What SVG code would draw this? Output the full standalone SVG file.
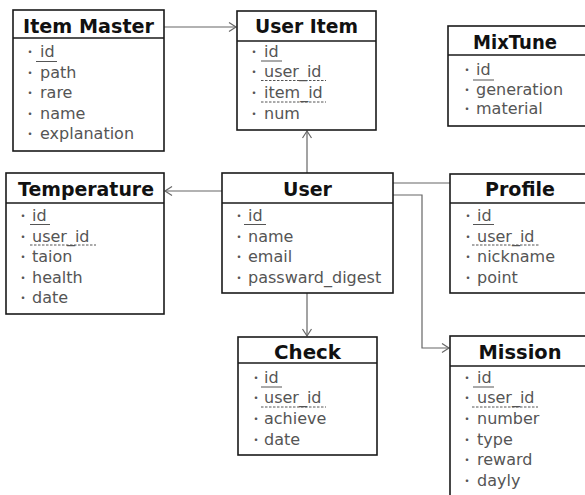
<svg xmlns="http://www.w3.org/2000/svg" width="585" height="495" viewBox="0 0 585 495">
<style>
.box{fill:#fff;stroke:#1a1a1a;stroke-width:1.6}
.sep{stroke:#1a1a1a;stroke-width:1.6}
.title{font-family:"DejaVu Sans","Liberation Sans",sans-serif;font-weight:bold;font-size:19px;fill:#111;text-anchor:middle}
.f{font-family:"DejaVu Sans","Liberation Sans",sans-serif;font-size:16px;fill:#555}
.b{font-family:"Noto Sans CJK JP",sans-serif;font-size:12px}
.pk{stroke:#555;stroke-width:1}
.fk{stroke:#555;stroke-width:1;stroke-dasharray:2.5,1.5}
.conn{fill:none;stroke:#666;stroke-width:1.2}
</style>
<defs>
<marker id="arr" markerUnits="userSpaceOnUse" markerWidth="10" markerHeight="11" refX="8" refY="5" orient="auto">
<path d="M1,0.5 L8,5 L1,9.5" fill="none" stroke="#666" stroke-width="1.2"/>
</marker>
</defs>
<g id="connectors">
<path class="conn" d="M164,27 H236" marker-end="url(#arr)"/>
<path class="conn" d="M307,173 V131" marker-end="url(#arr)"/>
<path class="conn" d="M222,191 H165" marker-end="url(#arr)"/>
<path class="conn" d="M393,183 H450"/>
<path class="conn" d="M307,293 V336" marker-end="url(#arr)"/>
<path class="conn" d="M393,195 H422 V348 H449" marker-end="url(#arr)"/>
</g>
<g id="item-master">
<rect class="box" x="13" y="10" width="151" height="141"/>
<line class="sep" x1="13" y1="38" x2="164" y2="38"/>
<text class="title" x="88.5" y="33" textLength="131" lengthAdjust="spacingAndGlyphs">Item Master</text>
<text class="f" y="57"><tspan class="b" x="24">・</tspan><tspan x="40">id</tspan></text>
<line class="pk" x1="36" y1="61.5" x2="57" y2="61.5"/>
<text class="f" y="77.5"><tspan class="b" x="24">・</tspan><tspan x="40">path</tspan></text>
<text class="f" y="98"><tspan class="b" x="24">・</tspan><tspan x="40">rare</tspan></text>
<text class="f" y="118.5"><tspan class="b" x="24">・</tspan><tspan x="40">name</tspan></text>
<text class="f" y="139"><tspan class="b" x="24">・</tspan><tspan x="40">explanation</tspan></text>
</g>
<g id="user-item">
<rect class="box" x="237" y="11" width="139" height="119"/>
<line class="sep" x1="237" y1="41" x2="376" y2="41"/>
<text class="title" x="306.5" y="33" textLength="103" lengthAdjust="spacingAndGlyphs">User Item</text>
<text class="f" y="57"><tspan class="b" x="248">・</tspan><tspan x="264">id</tspan></text>
<line class="pk" x1="261" y1="61" x2="282" y2="61"/>
<text class="f" y="77"><tspan class="b" x="248">・</tspan><tspan x="264">user_id</tspan></text>
<line class="fk" x1="261" y1="80.5" x2="326" y2="80.5"/>
<text class="f" y="98"><tspan class="b" x="248">・</tspan><tspan x="264">item_id</tspan></text>
<line class="fk" x1="261" y1="102" x2="326" y2="102"/>
<text class="f" y="118.5"><tspan class="b" x="248">・</tspan><tspan x="264">num</tspan></text>
</g>
<g id="mixtune">
<rect class="box" x="448" y="26" width="145" height="100"/>
<line class="sep" x1="448" y1="55" x2="593" y2="55"/>
<text class="title" x="515" y="49" textLength="84" lengthAdjust="spacingAndGlyphs">MixTune</text>
<text class="f" y="75"><tspan class="b" x="461">・</tspan><tspan x="476">id</tspan></text>
<line class="pk" x1="473" y1="80" x2="494" y2="80"/>
<text class="f" y="94.5"><tspan class="b" x="461">・</tspan><tspan x="476">generation</tspan></text>
<text class="f" y="114"><tspan class="b" x="461">・</tspan><tspan x="476">material</tspan></text>
</g>
<g id="temperature">
<rect class="box" x="6" y="173" width="158" height="141"/>
<line class="sep" x1="6" y1="203" x2="164" y2="203"/>
<text class="title" x="86" y="196" textLength="136" lengthAdjust="spacingAndGlyphs">Temperature</text>
<text class="f" y="221"><tspan class="b" x="17">・</tspan><tspan x="32">id</tspan></text>
<line class="pk" x1="30" y1="224.5" x2="50" y2="224.5"/>
<text class="f" y="241.5"><tspan class="b" x="17">・</tspan><tspan x="32">user_id</tspan></text>
<line class="fk" x1="30" y1="245" x2="96" y2="245"/>
<text class="f" y="262"><tspan class="b" x="17">・</tspan><tspan x="32">taion</tspan></text>
<text class="f" y="282.5"><tspan class="b" x="17">・</tspan><tspan x="32">health</tspan></text>
<text class="f" y="303"><tspan class="b" x="17">・</tspan><tspan x="32">date</tspan></text>
</g>
<g id="user">
<rect class="box" x="222" y="173" width="171" height="120"/>
<line class="sep" x1="222" y1="203" x2="393" y2="203"/>
<text class="title" x="307.5" y="196" textLength="49" lengthAdjust="spacingAndGlyphs">User</text>
<text class="f" y="221"><tspan class="b" x="233">・</tspan><tspan x="248">id</tspan></text>
<line class="pk" x1="244" y1="224.5" x2="266" y2="224.5"/>
<text class="f" y="241.5"><tspan class="b" x="233">・</tspan><tspan x="248">name</tspan></text>
<text class="f" y="262"><tspan class="b" x="233">・</tspan><tspan x="248">email</tspan></text>
<text class="f" y="282.5"><tspan class="b" x="233">・</tspan><tspan x="248">passward_digest</tspan></text>
</g>
<g id="profile">
<rect class="box" x="450" y="174" width="143" height="119"/>
<line class="sep" x1="450" y1="203" x2="593" y2="203"/>
<text class="title" x="520" y="196" textLength="70" lengthAdjust="spacingAndGlyphs">Profile</text>
<text class="f" y="221"><tspan class="b" x="462">・</tspan><tspan x="477">id</tspan></text>
<line class="pk" x1="473" y1="224.5" x2="494" y2="224.5"/>
<text class="f" y="241.5"><tspan class="b" x="462">・</tspan><tspan x="477">user_id</tspan></text>
<line class="fk" x1="472" y1="245" x2="539" y2="245"/>
<text class="f" y="262"><tspan class="b" x="462">・</tspan><tspan x="477">nickname</tspan></text>
<text class="f" y="282.5"><tspan class="b" x="462">・</tspan><tspan x="477">point</tspan></text>
</g>
<g id="check">
<rect class="box" x="238" y="337" width="139" height="118"/>
<line class="sep" x1="238" y1="363" x2="377" y2="363"/>
<text class="title" x="307.5" y="359" textLength="67" lengthAdjust="spacingAndGlyphs">Check</text>
<text class="f" y="383"><tspan class="b" x="250">・</tspan><tspan x="264">id</tspan></text>
<line class="pk" x1="261" y1="387" x2="282" y2="387"/>
<text class="f" y="403"><tspan class="b" x="250">・</tspan><tspan x="264">user_id</tspan></text>
<line class="fk" x1="261" y1="407" x2="326" y2="407"/>
<text class="f" y="424"><tspan class="b" x="250">・</tspan><tspan x="264">achieve</tspan></text>
<text class="f" y="445"><tspan class="b" x="250">・</tspan><tspan x="264">date</tspan></text>
</g>
<g id="mission">
<rect class="box" x="450" y="336" width="143" height="170"/>
<line class="sep" x1="450" y1="366" x2="593" y2="366"/>
<text class="title" x="520" y="359" textLength="83" lengthAdjust="spacingAndGlyphs">Mission</text>
<text class="f" y="383"><tspan class="b" x="461">・</tspan><tspan x="477">id</tspan></text>
<line class="pk" x1="473" y1="387" x2="494" y2="387"/>
<text class="f" y="403"><tspan class="b" x="461">・</tspan><tspan x="477">user_id</tspan></text>
<line class="fk" x1="472" y1="407" x2="538" y2="407"/>
<text class="f" y="424"><tspan class="b" x="461">・</tspan><tspan x="477">number</tspan></text>
<text class="f" y="445"><tspan class="b" x="461">・</tspan><tspan x="477">type</tspan></text>
<text class="f" y="465"><tspan class="b" x="461">・</tspan><tspan x="477">reward</tspan></text>
<text class="f" y="486"><tspan class="b" x="461">・</tspan><tspan x="477">dayly</tspan></text>
</g>
</svg>
